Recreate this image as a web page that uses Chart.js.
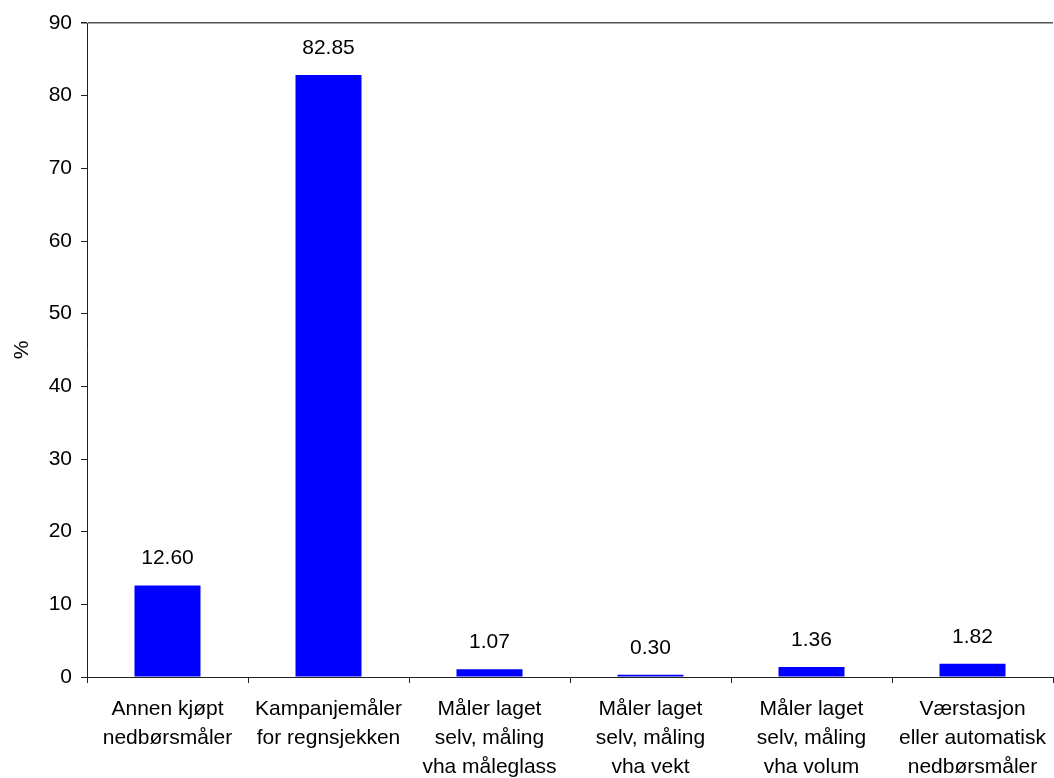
<!DOCTYPE html>
<html>
<head>
<meta charset="utf-8">
<script src="https://cdn.jsdelivr.net/npm/chart.js@4/dist/chart.umd.min.js"></script>
<style>
  html, body { margin: 0; padding: 0; background: #fff; }
  #wrap { width: 1054px; height: 778px; position: relative; }
</style>
</head>
<body>
<div id="wrap"><canvas id="c"></canvas></div>
<script>
var categories = [
  ['Annen kjøpt', 'nedbørsmåler'],
  ['Kampanjemåler', 'for regnsjekken'],
  ['Måler laget', 'selv, måling', 'vha måleglass'],
  ['Måler laget', 'selv, måling', 'vha vekt'],
  ['Måler laget', 'selv, måling', 'vha volum'],
  ['Værstasjon', 'eller automatisk', 'nedbørsmåler']
];
var shares = [12.60, 82.85, 1.07, 0.30, 1.36, 1.82];
var yTicks = [0, 10, 20, 30, 40, 50, 60, 70, 80, 90];

// value above each bar
var valueLabels = {
  id: 'valueLabels',
  afterDatasetsDraw: function(chart){
    var ctx = chart.ctx;
    var meta = chart.getDatasetMeta(0);
    ctx.save();
    ctx.font = '21px "Liberation Sans", Arial, sans-serif';
    ctx.fillStyle = '#000';
    ctx.textAlign = 'center';
    ctx.textBaseline = 'middle';
    meta.data.forEach(function(bar, i){
      ctx.fillText(shares[i].toFixed(2), bar.x, bar.y - 27);
    });
    ctx.restore();
  }
};

var font = { family: '"Liberation Sans", Arial, sans-serif', size: 21, lineHeight: 1.2 };

new Chart(document.getElementById('c').getContext('2d'), {
  type: 'bar',
  data: {
    labels: categories,
    datasets: [{
      data: shares,
      backgroundColor: '#0000ff',
      borderWidth: 0,
      barPercentage: 0.41,
      categoryPercentage: 1.0
    }]
  },
  options: {
    responsive: true,
    maintainAspectRatio: false,
    animation: false,
    layout: { padding: { top: 23, right: 1, left: 0, bottom: 0 } },
    plugins: {
      legend: { display: false },
      tooltip: { enabled: false }
    },
    scales: {
      x: {
        afterFit: function(s){ s.height = 101; s.paddingLeft = 0; s.paddingRight = 0; },
        grid: { display: true, drawOnChartArea: false, offset: true, color: '#222', tickLength: 6 },
        border: { color: '#222', width: 1 },
        ticks: { color: '#000', font: { family: font.family, size: 21, lineHeight: 1.38 }, maxRotation: 0, autoSkip: false, padding: 12 }
      },
      y: {
        min: 0,
        max: 90,
        afterFit: function(s){ s.width = 87; },
        afterBuildTicks: function(axis){ axis.ticks = yTicks.map(function(v){ return { value: v }; }); },
        grid: {
          display: true,
          drawOnChartArea: true,
          color: function(c){ return c.tick && c.tick.value === 90 ? '#555' : 'rgba(0,0,0,0)'; },
          tickColor: '#222',
          lineWidth: function(c){ return c.tick && c.tick.value === 90 ? 1.5 : 1; },
          tickLength: 6
        },
        border: { color: '#222', width: 1 },
        ticks: { color: '#000', font: font, padding: 9 },
        title: { display: true, text: '%', color: '#000', font: font, padding: { top: 10, bottom: 0 } }
      }
    }
  },
  plugins: [valueLabels]
});
</script>
</body>
</html>
